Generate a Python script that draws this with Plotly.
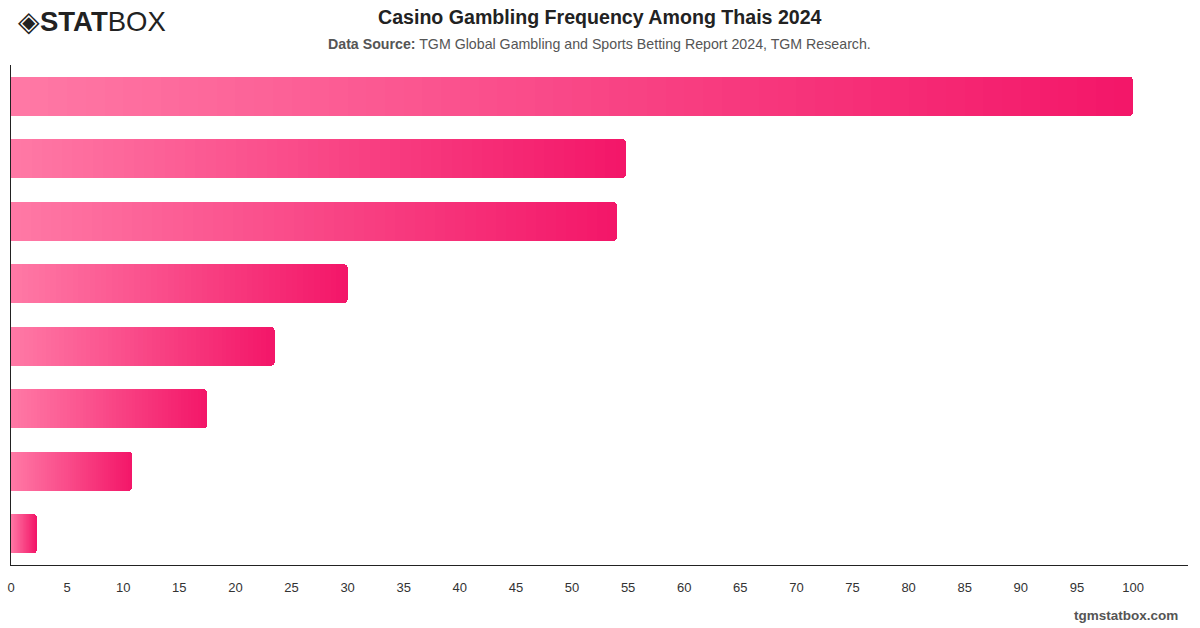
import plotly.graph_objects as go

# ---- data ----
categories = ["Category 1", "Category 2", "Category 3", "Category 4",
              "Category 5", "Category 6", "Category 7", "Category 8"]
values = [100, 54.8, 54.0, 30.0, 23.5, 17.5, 10.8, 2.3]
tick_values = list(range(0, 101, 5))

# ---- style ----
LEFT_RGB = (255, 121, 166)
RIGHT_RGB = (243, 22, 104)
N_SEG = 60


def lerp_color(t):
    r = round(LEFT_RGB[0] + (RIGHT_RGB[0] - LEFT_RGB[0]) * t)
    g = round(LEFT_RGB[1] + (RIGHT_RGB[1] - LEFT_RGB[1]) * t)
    b = round(LEFT_RGB[2] + (RIGHT_RGB[2] - LEFT_RGB[2]) * t)
    return f"rgb({r},{g},{b})"


fig = go.Figure()
for k in range(N_SEG):
    t = (k + 0.5) / N_SEG
    fig.add_trace(go.Bar(
        x=[v / N_SEG for v in values],
        y=categories,
        orientation="h",
        marker=dict(color=lerp_color(t), line=dict(width=0),
                    cornerradius=4 if k == 0 else None),
        hoverinfo="skip",
        showlegend=False,
    ))

FONT = "Liberation Sans, Arial, sans-serif"

fig.update_layout(
    width=1200, height=628,
    margin=dict(l=11, r=12, t=65, b=63),
    paper_bgcolor="white", plot_bgcolor="white",
    barmode="stack", bargap=0.376,
    font=dict(family=FONT, color="#333333", size=13),
    xaxis=dict(range=[0, 104.9], tickvals=tick_values, showgrid=False,
               zeroline=False, showline=True, linecolor="#222222", linewidth=1,
               ticks="", ticklen=0, ticklabelstandoff=10, automargin=False,
               tickfont=dict(size=13, color="#333333"),
               fixedrange=True),
    yaxis=dict(categoryorder="array", categoryarray=categories,
               autorange="reversed", showticklabels=False, showgrid=False,
               zeroline=False, showline=True, linecolor="#222222", linewidth=1,
               ticks="", automargin=False, fixedrange=True),
    annotations=[
        dict(text="<b>Casino Gambling Frequency Among Thais 2024</b>",
             xref="paper", yref="paper", x=0.5, y=1, xanchor="center", yanchor="middle",
             yshift=65 - 17, showarrow=False,
             font=dict(size=19.6, color="#222222", family=FONT)),
        dict(text="<b>Data Source:</b> TGM Global Gambling and Sports Betting Report 2024, TGM Research.",
             xref="paper", yref="paper", x=0.5, y=1, xanchor="center", yanchor="middle",
             yshift=65 - 44, showarrow=False,
             font=dict(size=14.2, color="#555555", family=FONT)),
        dict(text="<b>tgmstatbox.com</b>",
             xref="paper", yref="paper", x=1, y=0, xanchor="right", yanchor="middle",
             xshift=-8, yshift=-(615 - 565), showarrow=False,
             font=dict(size=13.5, color="#555555", family=FONT)),
        dict(text="◈<b>STAT</b>BOX",
             xref="paper", yref="paper", x=0, y=1, xanchor="left", yanchor="middle",
             xshift=5, yshift=65 - 21, showarrow=False,
             font=dict(size=27.5, color="#222222", family=FONT)),
    ],
)

fig.write_html("out.html")
